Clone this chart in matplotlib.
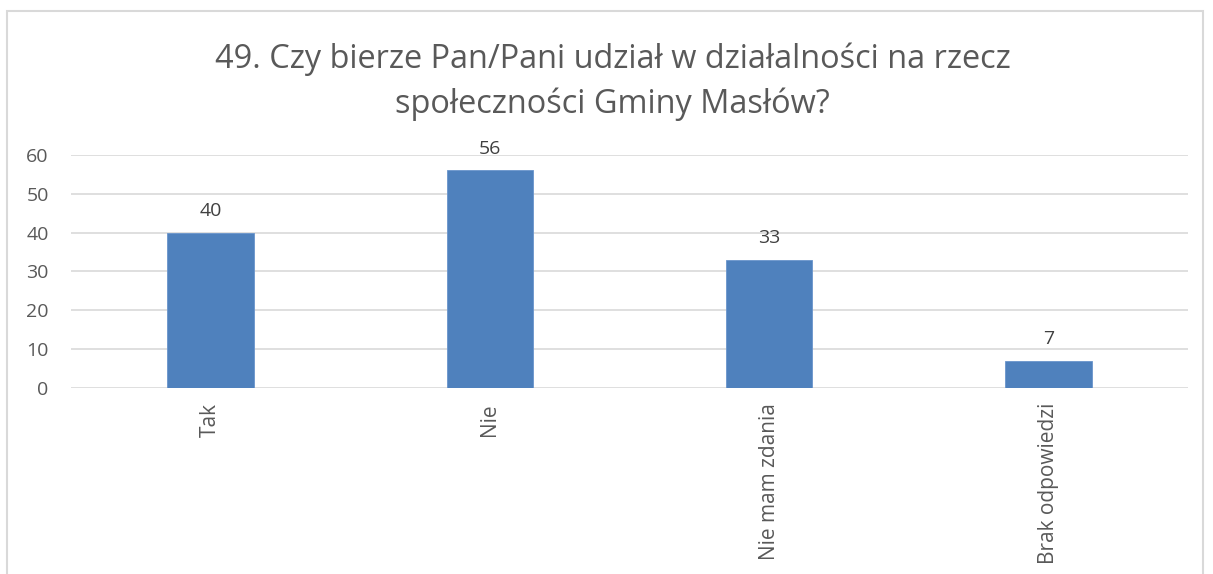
import matplotlib.pyplot as plt
from matplotlib.patches import Rectangle

categories = ['Tak', 'Nie', 'Nie mam zdania', 'Brak odpowiedzi']
counts = [40, 56, 33, 7]
yticks = [0, 10, 20, 30, 40, 50, 60]

title = '49. Czy bierze Pan/Pani udział w działalności na rzecz\nspołeczności Gminy Masłów?'

plt.rcParams['font.family'] = ['Open Sans', 'DejaVu Sans']

fig = plt.figure(figsize=(12.13, 5.74), dpi=100)
ax = fig.add_axes([0.0585, 0.3246, 0.9209, 0.4054])

x = range(len(categories))
ax.bar(x, counts, width=0.31, color='#4f81bd', edgecolor='#6a95cc', linewidth=0.6, zorder=3)

for xi, v in zip(x, counts):
    ax.annotate(str(v), (xi, v), xytext=(0, 12), textcoords='offset points',
                ha='center', va='baseline', fontsize=14, color='#404040')

ax.set_xlim(-0.5, len(categories) - 0.5)
ax.set_ylim(0, 60)
ax.set_yticks(yticks)
ax.set_xticks(list(x))
ax.set_xticklabels(categories, rotation=90, fontsize=15, color='#595959')
ax.tick_params(axis='y', length=0, pad=16, labelsize=14, labelcolor='#595959')
ax.tick_params(axis='x', length=0, pad=11)
ax.grid(axis='y', color='#d9d9d9', linewidth=1.2, zorder=0)
for s in ax.spines.values():
    s.set_visible(False)

fig.text(0.505, 0.857, title, ha='center', va='center', fontsize=23.4,
         color='#595959', linespacing=1.45)

# light outer frame of the chart area
fig.patches.append(Rectangle((7 / 1213, -0.05), 1196 / 1213, 1.05 - 11 / 574,
                             transform=fig.transFigure, fill=False,
                             edgecolor='#d9d9d9', linewidth=1.5))

fig.savefig('out.png', dpi=100)
